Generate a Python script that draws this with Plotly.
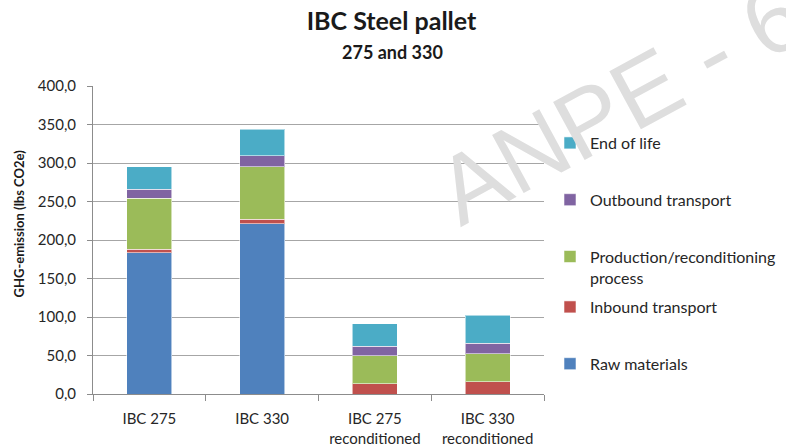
import plotly.graph_objects as go

categories = ["IBC 275<br> ", "IBC 330<br> ", "IBC 275<br>reconditioned", "IBC 330<br>reconditioned"]
raw_materials = [183.5, 221.0, 0.0, 0.0]
inbound_transport = [4.5, 6.0, 13.0, 16.0]
production_process = [66.0, 68.0, 37.0, 36.0]
outbound_transport = [12.0, 14.5, 12.0, 14.0]
end_of_life = [29.0, 34.5, 29.0, 36.0]

series_names = ["Raw materials", "Inbound transport", "Production/reconditioning<br>process",
                "Outbound transport", "End of life"]
series_values = [raw_materials, inbound_transport, production_process, outbound_transport, end_of_life]
series_colors = ["#4F81BD", "#C0504D", "#9BBB59", "#8064A2", "#4BACC6"]
series_legend = ["legend2", "legend2", "legend", "legend", "legend"]
series_rank = [5, 4, 3, 2, 1]

y_ticks = [0, 50, 100, 150, 200, 250, 300, 350, 400]

FONT = "Lato, 'Open Sans', sans-serif"

fig = go.Figure()
for name, vals, col, lg, rk in zip(series_names, series_values, series_colors, series_legend, series_rank):
    fig.add_trace(go.Bar(
        x=categories, y=vals, name=name, legendgroup=name, legend=lg, legendrank=rk,
        marker=dict(color=col, line=dict(color="rgba(255,255,255,0.55)", width=1)),
    ))

L, R, T, B = 93, 242, 86, 54
W, H = 786, 448
pw = W - L - R
ph = H - T - B

def px_x(x):
    return (x - L) / pw

def px_y(y):
    return (H - B - y) / ph

legend_style = dict(xanchor="left", yanchor="top", traceorder="grouped", tracegroupgap=33,
                    valign="top", font=dict(family=FONT, size=16, color="#262626"),
                    bgcolor="rgba(0,0,0,0)")

fig.update_layout(
    width=W, height=H,
    margin=dict(l=L, r=R, t=T, b=B, autoexpand=False),
    barmode="stack", bargap=0.6,
    plot_bgcolor="white", paper_bgcolor="white",
    separators=",.",
    font=dict(family=FONT, size=15, color="#262626"),
    title=dict(text="<b>IBC Steel pallet</b>", x=391.5 / W, xanchor="center",
               y=1 - 21 / H, yanchor="middle",
               font=dict(family=FONT, size=25, color="#1a1a1a")),
    legend=dict(x=px_x(550), y=px_y(126), **legend_style),
    legend2=dict(x=px_x(550), y=px_y(290), **legend_style),
    xaxis=dict(showline=True, linecolor="#8c8c8c", linewidth=1,
               ticks="outside", tickson="boundaries", ticklen=6, tickcolor="#8c8c8c",
               tickfont=dict(family=FONT, size=15, color="#262626"),
               ticklabelstandoff=11, showgrid=False),
    yaxis=dict(range=[0, 400], tickvals=y_ticks, tickformat=".1f",
               showline=True, linecolor="#8c8c8c", linewidth=1,
               ticks="outside", ticklen=5, tickcolor="#8c8c8c",
               showgrid=True, gridcolor="#a6a6a6", gridwidth=1,
               tickfont=dict(family=FONT, size=15, color="#262626"),
               ticklabelstandoff=8, zeroline=False),
)

fig.add_annotation(text="<b>275 and 330</b>", xref="paper", yref="paper",
                   x=px_x(392), y=px_y(51.7), xanchor="center", yanchor="middle",
                   showarrow=False, font=dict(family=FONT, size=18, color="#1a1a1a"))
fig.add_annotation(text="<b>GHG-emission (lbs CO2e)</b>", xref="paper", yref="paper",
                   x=px_x(18), y=px_y(223.5), xanchor="center", yanchor="middle",
                   textangle=-90, showarrow=False,
                   font=dict(family=FONT, size=13, color="#1a1a1a"))
fig.add_annotation(text="ANPE - 6", xref="paper", yref="paper",
                   x=px_x(620), y=px_y(102), xanchor="center", yanchor="middle",
                   textangle=-28.5, showarrow=False,
                   font=dict(family="'Liberation Sans', sans-serif", size=96, color="#dedede"))

fig.write_html("out.html", config={"displayModeBar": False},
               post_script="document.body.style.margin='0px';")
